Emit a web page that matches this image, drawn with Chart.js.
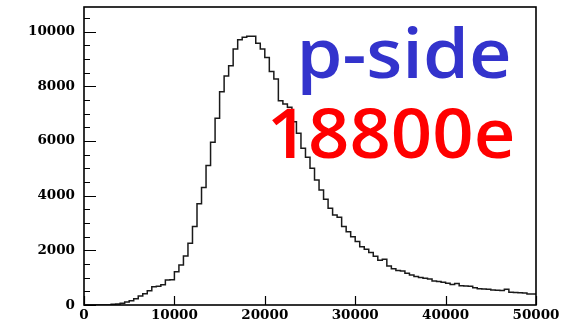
<!DOCTYPE html>
<html><head><meta charset="utf-8">
<script src="https://cdn.jsdelivr.net/npm/chart.js@4.4.1/dist/chart.umd.min.js"></script>
<style>html,body{margin:0;padding:0;background:#fff;overflow:hidden}#wrap{width:578px;height:326px}</style>
</head><body><div id="wrap"><canvas id="c" width="578" height="326"></canvas></div>
<script>
// ---- data ----
const binWidth = 500;
const xMin = 0, xMax = 50000;
const yMax = 10900;
const counts = [
  0,0,0,0,0,0,0,
  25,35,60,110,160,230,330,410,520,670,690,740,915,
  920,1220,1460,1790,2260,2870,3700,4300,5100,5950,
  6830,7800,8380,8750,9360,9700,9790,9830,9830,9570,
  9360,9050,8540,8270,7470,7350,7230,6700,6280,5730,
  5400,5000,4570,4210,3870,3540,3290,3210,2870,2680,
  2500,2320,2130,2040,1920,1780,1640,1670,1430,1330,
  1260,1240,1160,1100,1040,1010,976,950,878,860,
  830,800,750,790,700,695,690,634,590,585,
  580,545,535,530,580,465,460,445,435,400
];
const xTickValues = [0,10000,20000,30000,40000,50000];
const yTickValues = [0,2000,4000,6000,8000,10000];
const yMinorStep = 500;
const labelTop = 'p-side';
const labelBottom = '18800e';

// histogram outline points (bin left edges + final right edge)
const points = counts.map((c, i) => ({x: xMin + i * binWidth, y: c}));
points.push({x: xMax, y: counts[counts.length - 1]});

const tickFont = {family: '"DejaVu Serif"', size: 13.5, weight: 'bold'};

function drawStretched(ctx, text, font, color, left, baseline, targetWidth) {
  ctx.save();
  ctx.font = font; ctx.fillStyle = color;
  ctx.textBaseline = 'alphabetic'; ctx.textAlign = 'left';
  const m = ctx.measureText(text);
  const ink = m.actualBoundingBoxRight + m.actualBoundingBoxLeft;
  const sx = targetWidth / ink;
  ctx.translate(left, baseline);
  ctx.scale(sx, 1);
  ctx.fillText(text, m.actualBoundingBoxLeft, 0);
  ctx.restore();
}

const framePlugin = {
  id: 'frame',
  afterDatasetsDraw(chart) {
    const ctx = chart.ctx, a = chart.chartArea;
    const xs = chart.scales.x, ys = chart.scales.y;
    ctx.save();
    ctx.strokeStyle = '#000';
    ctx.lineWidth = 1.2;
    ctx.beginPath();
    for (let v = 0; v <= ys.max; v += yMinorStep) {
      const py = Math.round(ys.getPixelForValue(v)) + 0.5;
      const len = (v % 2000 === 0) ? 12 : 6;
      ctx.moveTo(a.left, py); ctx.lineTo(a.left + len, py);
    }
    xTickValues.forEach(v => {
      const px = Math.round(xs.getPixelForValue(v)) + 0.5;
      ctx.moveTo(px, a.bottom); ctx.lineTo(px, a.bottom - 9);
    });
    ctx.stroke();
    ctx.lineWidth = 1.6;
    ctx.strokeRect(a.left, a.top, a.right - a.left, a.bottom - a.top);
    ctx.restore();
    drawStretched(ctx, labelTop, '600 68px "Open Sans"', 'rgb(51,51,204)', 302, 78, 206);
    drawStretched(ctx, labelBottom, '600 68px "Open Sans"', '#ff0000', 272, 158, 240);
  }
};

new Chart(document.getElementById('c'), {
  type: 'line',
  data: {datasets: [{
    data: points,
    stepped: 'after',
    borderColor: '#1a1a1a',
    borderWidth: 1.5,
    pointRadius: 0,
    fill: false
  }]},
  options: {
    responsive: false,
    animation: false,
    devicePixelRatio: 1,
    layout: {padding: {left: 0, top: 7, right: 42, bottom: 0}},
    plugins: {legend: {display: false}, tooltip: {enabled: false}},
    scales: {
      x: {
        type: 'linear', min: xMin, max: xMax,
        afterBuildTicks: s => { s.ticks = xTickValues.map(v => ({value: v})); },
        afterFit: s => { s.height = 21; s.paddingLeft = 0; s.paddingRight = 0; },
        ticks: {font: tickFont, color: '#000', padding: 2, maxRotation: 0, autoSkip: false,
                callback: v => String(v)},
        grid: {display: true, drawOnChartArea: false, drawTicks: false},
        border: {display: false}
      },
      y: {
        type: 'linear', min: 0, max: yMax,
        afterBuildTicks: s => { s.ticks = yTickValues.map(v => ({value: v})); },
        afterFit: s => { s.width = 84; s.paddingTop = 0; s.paddingBottom = 0; },
        ticks: {font: tickFont, color: '#000', padding: 9, callback: v => String(v)},
        grid: {display: true, drawOnChartArea: false, drawTicks: false},
        border: {display: false}
      }
    }
  },
  plugins: [framePlugin]
});
</script>
</body></html>
